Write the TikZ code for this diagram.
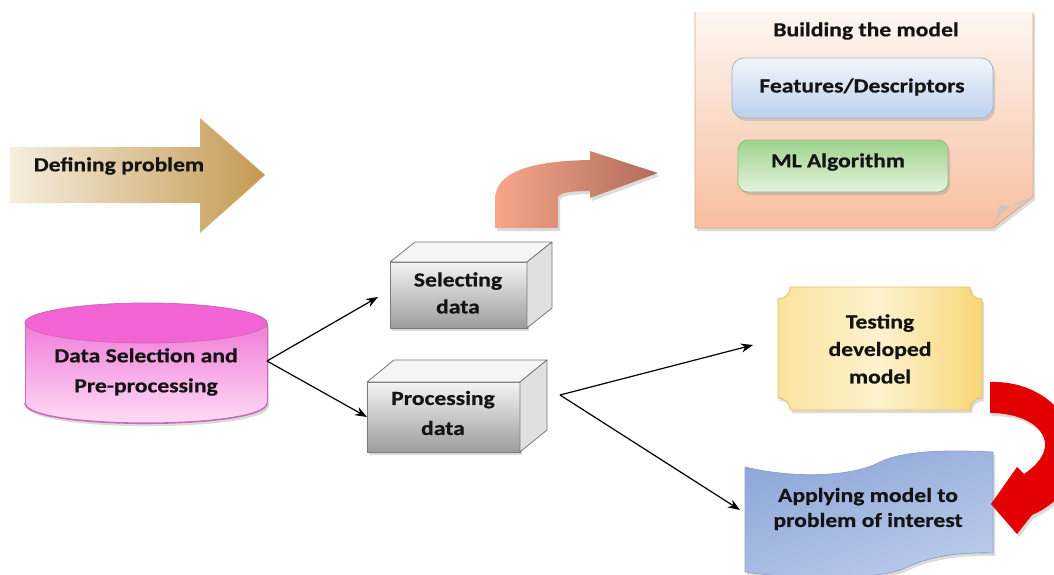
\documentclass[tikz,border=0pt]{standalone}
\usepackage{fontspec}
\setmainfont{Carlito}[FakeStretch=1.18, BoldFeatures={FakeBold=0.6}]
\usetikzlibrary{arrows.meta,shadows}

\definecolor{txt}{HTML}{141414}
\definecolor{goldL}{HTML}{F6EEDF}
\definecolor{goldR}{HTML}{C49A52}
\definecolor{salL}{HTML}{F6A68A}
\definecolor{salR}{HTML}{B06C5C}
\definecolor{peachT}{HTML}{FDF6F1}
\definecolor{peachB}{HTML}{F8BE9E}
\definecolor{peachE}{HTML}{D8A88E}
\definecolor{featT}{HTML}{F2F6FC}
\definecolor{featB}{HTML}{BCD0EC}
\definecolor{featE}{HTML}{9FB4D4}
\definecolor{mlT}{HTML}{9ED28C}
\definecolor{mlB}{HTML}{E6F3DE}
\definecolor{mlE}{HTML}{8CBF7C}
\definecolor{cylTop}{HTML}{F264D4}
\definecolor{cylT}{HTML}{F27CD9}
\definecolor{cylB}{HTML}{FDE2F7}
\definecolor{cylE}{HTML}{C86CB6}
\definecolor{boxT}{HTML}{F4F4F4}
\definecolor{boxB}{HTML}{9C9C9C}
\definecolor{boxE}{HTML}{7A7A7A}
\definecolor{tstL}{HTML}{F9E39E}
\definecolor{tstM}{HTML}{FDF2CE}
\definecolor{tstR}{HTML}{F6D676}
\definecolor{tstE}{HTML}{E3C26A}
\definecolor{apL}{HTML}{8FA8D9}
\definecolor{apM}{HTML}{D6E0F3}
\definecolor{apR}{HTML}{BACBEA}
\definecolor{apE}{HTML}{8FA3CC}
\definecolor{redA}{HTML}{E30000}

\begin{document}
\begin{tikzpicture}[x=1pt,y=-1pt,
  lbl/.style={font=\fontsize{20}{27}\selectfont\bfseries, text=txt, align=center, inner sep=0pt},
  link/.style={-{Stealth[length=12pt,width=9pt]}, line width=1.2pt, black},
  softshadow/.style={drop shadow={opacity=0.28, shadow xshift=2pt, shadow yshift=-3pt}},
  boxface/.style={draw=boxE, line width=0.8pt, line join=round}]

\useasboundingbox (0,0) rectangle (1054,575);
\clip (0,0) rectangle (1054,575);
\fill[white] (0,0) rectangle (1054,575);

% "Defining problem" block arrow
\shade[left color=goldL, right color=goldR]
  (10,147) -- (200,147) -- (200,118) -- (265,175) -- (200,233) -- (200,203) -- (10,203) -- cycle;
\node[lbl] (defprob) at (119,166) {Defining problem};

% bent arrow leading up to the model box
\path[softshadow, left color=salL, right color=salR]
  (495,228) -- (495,200) .. controls (495,172) and (530,161) .. (590,160)
  -- (590,151) -- (658,173) -- (590,198) -- (590,191)
  .. controls (575,191) and (560,192) .. (558,197) -- (558,228) -- cycle;

% note sheet: building the model
\path[softshadow, top color=peachT, bottom color=peachB]
  (695,12) -- (1033,12) -- (1033,197) -- (993,228) -- (695,228) -- cycle;
\draw[peachE, line width=0.8pt] (695,12) -- (695,228) -- (993,228) -- (1033,197) -- (1033,12);
\fill[gray!45] (993,228) .. controls (998,214) and (1005,206) .. (1033,197)
  .. controls (1018,206) and (1008,208) .. (1000,205) .. controls (998,214) and (996,220) .. (993,228) -- cycle;
\node[lbl] (building) at (866,31) {Building the model};

\shadedraw[softshadow, rounded corners=12pt, top color=featT, bottom color=featB, draw=featE, line width=0.8pt]
  (732,58) rectangle (993,118);
\node[lbl] (features) at (862,87) {Features/Descriptors};

\shadedraw[softshadow, rounded corners=10pt, top color=mlT, bottom color=mlB, draw=mlE, line width=0.8pt]
  (738,140) rectangle (948,192);
\node[lbl] (mlalgo) at (838,162) {ML Algorithm};

% data cylinder
\path[softshadow, top color=cylT, bottom color=cylB]
  (25,323) -- (25,403) .. controls (25,430) and (267,430) .. (267,403) -- (267,323) -- cycle;
\draw[cylE, line width=1.6pt] (25,403) .. controls (25,430) and (267,430) .. (267,403);
\draw[cylE, line width=0.8pt] (25,323) -- (25,403) (267,323) -- (267,403);
\filldraw[fill=cylTop, draw=cylE, line width=0.8pt] (146,323) ellipse [x radius=121, y radius=20];
\node[lbl, font=\fontsize{20}{30}\selectfont\bfseries] (datasel) at (146,372) {Data Selection and\\Pre-processing};

% 3D box: selecting data
\shade[softshadow, top color=boxT, bottom color=boxB] (390,262) rectangle (527,328);
\draw[boxface] (390,262) rectangle (527,328);
\filldraw[boxface, fill=white!96!black] (390,262) -- (415,242) -- (552,242) -- (527,262) -- cycle;
\filldraw[boxface, fill=white!88!black] (527,262) -- (552,242) -- (552,308) -- (527,328) -- cycle;
\node[lbl] (selecting) at (458,293) {Selecting\\data};

% 3D box: processing data
\shade[softshadow, top color=boxT, bottom color=boxB] (367,382) rectangle (520,452);
\draw[boxface] (367,382) rectangle (520,452);
\filldraw[boxface, fill=white!96!black] (367,382) -- (394,360) -- (547,360) -- (520,382) -- cycle;
\filldraw[boxface, fill=white!88!black] (520,382) -- (547,360) -- (547,430) -- (520,452) -- cycle;
\node[lbl, font=\fontsize{20}{30}\selectfont\bfseries] (processing) at (443,413) {Processing\\data};

% plaque: testing
\path[softshadow, left color=tstL, right color=tstR, middle color=tstM, draw=tstE, line width=0.8pt]
  (790,287) -- (970,287) .. controls (970,294) and (975,299) .. (982,299)
  -- (982,398) .. controls (975,398) and (970,403) .. (970,410)
  -- (790,410) .. controls (790,403) and (785,398) .. (778,398)
  -- (778,299) .. controls (785,299) and (790,294) .. (790,287) -- cycle;
\node[lbl, font=\fontsize{20}{27.5}\selectfont\bfseries] (testing) at (880,349) {Testing\\developed\\model};

% wavy banner: applying model
\path[softshadow, left color=apL, middle color=apM, right color=apR, shading angle=20, draw=apE, line width=0.8pt]
  (745,467) .. controls (790,478) and (850,478) .. (880,462)
  .. controls (905,450) and (950,450) .. (993,452)
  -- (993,553) .. controls (960,552) and (930,556) .. (905,568)
  .. controls (880,580) and (800,580) .. (745,572) -- cycle;
\node[lbl, font=\fontsize{20}{25}\selectfont\bfseries] (applying) at (868,509) {Applying model to\\problem of interest};

% circular red arrow from testing to applying
\path[softshadow, fill=redA]
  (990,382) .. controls (1050,380) and (1090,430) .. (1070,480)
  .. controls (1062,497) and (1048,508) .. (1032,515)
  -- (1017,534) -- (991,504) -- (1017,467) -- (1024,474)
  .. controls (1036,466) and (1046,455) .. (1045,443)
  .. controls (1043,425) and (1020,413) .. (990,413) -- cycle;

% connector end points
\coordinate (datasel-e) at (267,361);
\coordinate (selecting-w) at (378,297);
\coordinate (processing-w) at (367,417);
\coordinate (processing-e) at (560,395);
\coordinate (testing-w) at (753,345);
\coordinate (applying-w) at (740,510);

\draw[link] (datasel-e) -- (selecting-w);
\draw[link] (datasel-e) -- (processing-w);
\draw[link] (processing-e) -- (testing-w);
\draw[link] (processing-e) -- (applying-w);
\end{tikzpicture}
\end{document}
